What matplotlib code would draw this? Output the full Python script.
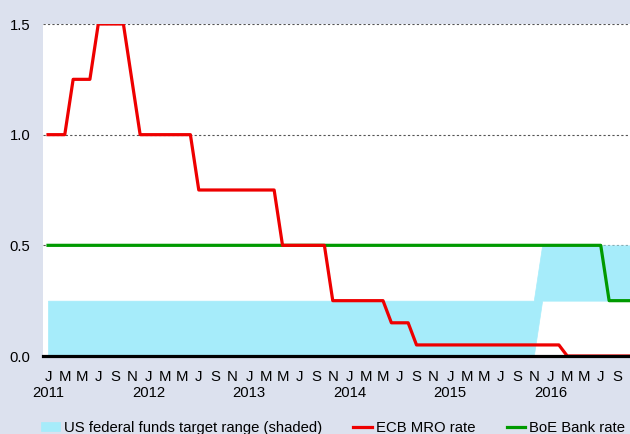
import numpy as np
import matplotlib
matplotlib.use('Agg')
import matplotlib.pyplot as plt
import matplotlib.transforms as mtransforms

### data (monthly, Jan 2011 - Nov 2016)
years = [2011, 2012, 2013, 2014, 2015, 2016]
month_letters = ['J', 'M', 'M', 'J', 'S', 'N']

# ECB main refinancing operations rate
ecb_mro = [1.0, 1.0, 1.0, 1.25, 1.25, 1.25, 1.5, 1.5, 1.5, 1.5, 1.25, 1.0,
           1.0, 1.0, 1.0, 1.0, 1.0, 1.0, 0.75, 0.75, 0.75, 0.75, 0.75, 0.75,
           0.75, 0.75, 0.75, 0.75, 0.5, 0.5, 0.5, 0.5, 0.5, 0.5, 0.25, 0.25,
           0.25, 0.25, 0.25, 0.25, 0.25, 0.15, 0.15, 0.15, 0.05, 0.05, 0.05, 0.05,
           0.05, 0.05, 0.05, 0.05, 0.05, 0.05, 0.05, 0.05, 0.05, 0.05, 0.05, 0.05,
           0.05, 0.05, 0.0, 0.0, 0.0, 0.0, 0.0, 0.0, 0.0, 0.0, 0.0]
# Bank of England bank rate
boe_rate = [0.5] * 67 + [0.25] * 4
# US federal funds target range
fed_low = [0.0] * 59 + [0.25] * 12
fed_high = [0.25] * 59 + [0.5] * 12

n = len(ecb_mro)
x = np.arange(n)

bg = '#DCE1EE'
plt.rcParams['font.family'] = ['Liberation Sans', 'DejaVu Sans']
fs = 10.7

fig = plt.figure(figsize=(6.3, 4.34), dpi=100, facecolor=bg)
ax = fig.add_axes([43 / 630, 78 / 434, 608 / 630, 332 / 434])

ax.fill_between(x, fed_low, fed_high, facecolor='#A6ECFA', edgecolor='#A6ECFA',
                linewidth=0.5, label='US federal funds target range (shaded)', zorder=1)
ax.plot(x, ecb_mro, color='#EE0000', linewidth=2.3, label='ECB MRO rate', zorder=4)
ax.plot(x, boe_rate, color='#009A00', linewidth=2.3, label='BoE Bank rate', zorder=3)

ax.set_xlim(-0.6, 72)
ax.set_ylim(0, 1.5)
ax.set_yticks([0.0, 0.5, 1.0, 1.5])
ax.set_yticklabels(['0.0', '0.5', '1.0', '1.5'])
ax.yaxis.grid(True, linestyle=(0, (2, 2)), color='#555555', linewidth=0.8, zorder=2)
ax.set_axisbelow(True)

# month letters every two months
ticks = np.arange(0, 72, 2)
ax.set_xticks(ticks)
ax.set_xticklabels([month_letters[(t % 12) // 2] for t in ticks])
ax.tick_params(axis='both', length=0, labelsize=fs)
ax.tick_params(axis='x', pad=10)
ax.tick_params(axis='y', pad=9)

# years under each January
trans = mtransforms.blended_transform_factory(ax.transData, ax.transAxes)
for i, yr in enumerate(years):
    ax.text(i * 12, -37 / 332, str(yr), transform=trans, ha='center', va='center',
            fontsize=fs)

for s in ['top', 'right', 'left']:
    ax.spines[s].set_visible(False)
ax.spines['bottom'].set_linewidth(2.3)
ax.spines['bottom'].set_color('black')
ax.spines['bottom'].set_zorder(5)

fig.text(8 / 630, 1.0 + 15 / 434, '(percentage points per annum; monthly data)',
         fontsize=fs, va='top', ha='left')

fig.legend(loc='center left', bbox_to_anchor=(41 / 630, 6 / 434), ncol=3,
           frameon=False, fontsize=fs, handlelength=1.25, handletextpad=0.28,
           columnspacing=2.1, borderpad=0, borderaxespad=0, handleheight=0.6)

fig.savefig('out.png', dpi=100, facecolor=bg)
